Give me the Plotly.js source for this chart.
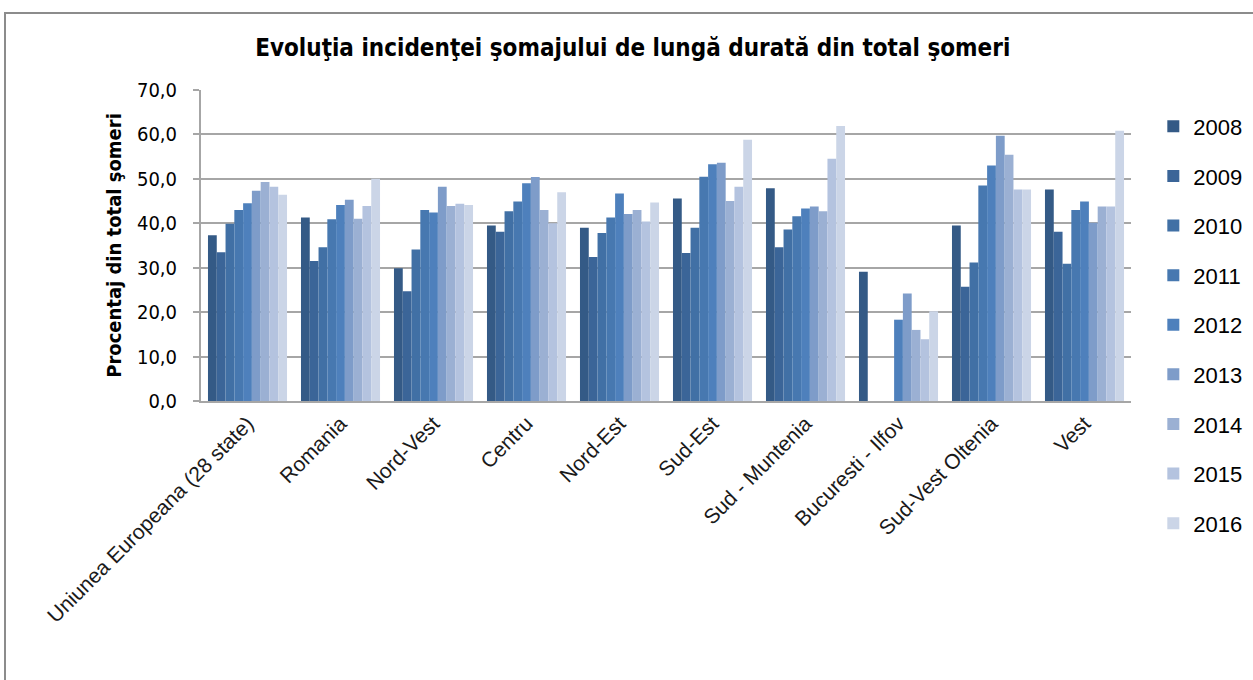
<!DOCTYPE html>
<html>
<head>
<meta charset="utf-8">
<script src="https://cdn.plot.ly/plotly-3.0.1.min.js"></script>
<style>
  html, body { margin: 0; padding: 0; background: #fff; overflow: hidden; }
  #chart { position: absolute; left: 0; top: 0; width: 1253px; height: 680px; }
  #frame { position: absolute; left: 4px; top: 12px; width: 1300px; height: 720px;
           border: 2px solid #8c8c8c; pointer-events: none; box-sizing: border-box; }
</style>
</head>
<body>
<div id="chart"></div>
<div id="frame"></div>
<script>
const categories = [
  "Uniunea Europeana (28 state)", "Romania", "Nord-Vest", "Centru", "Nord-Est",
  "Sud-Est", "Sud - Muntenia", "Bucuresti - Ilfov", "Sud-Vest Oltenia", "Vest"
];
const years = ["2008", "2009", "2010", "2011", "2012", "2013", "2014", "2015", "2016"];

const v2008 = [37.3, 41.3, 29.9, 39.5, 39.0, 45.6, 47.9, 29.1, 39.5, 47.6];
const v2009 = [33.5, 31.5, 24.7, 38.1, 32.4, 33.3, 34.6, null, 25.7, 38.1];
const v2010 = [39.9, 34.6, 34.1, 42.7, 37.8, 39.0, 38.6, null, 31.2, 30.9];
const v2011 = [43.0, 40.9, 43.0, 44.9, 41.3, 50.5, 41.6, null, 48.5, 43.0];
const v2012 = [44.5, 44.1, 42.4, 49.0, 46.7, 53.3, 43.3, 18.3, 53.0, 44.9];
const v2013 = [47.3, 45.3, 48.2, 50.4, 42.1, 53.6, 43.8, 24.2, 59.7, 40.1];
const v2014 = [49.3, 41.0, 43.9, 43.0, 43.0, 45.0, 42.7, 16.0, 55.4, 43.8];
const v2015 = [48.2, 43.9, 44.4, 40.0, 40.4, 48.2, 54.5, 13.9, 47.6, 43.8];
const v2016 = [46.4, 50.0, 44.1, 47.0, 44.7, 58.8, 61.9, 20.2, 47.6, 60.8];

const seriesValues = [v2008, v2009, v2010, v2011, v2012, v2013, v2014, v2015, v2016];
const colors = ["#345a86", "#3b6598", "#4170a5", "#4778b0", "#4e80bc",
                "#7e9cc9", "#9bb0d3", "#b4c3df", "#cbd5e7"];

const traces = years.map((y, i) => ({
  type: "bar",
  name: y,
  x: categories,
  y: seriesValues[i],
  marker: { color: colors[i], line: { width: 0 } },
  legendgroup: "g" + y,
  hoverinfo: "x+y+name"
}));

const narrow = "Liberation Sans Narrow, DejaVu Sans Condensed, Liberation Sans, Arial";

const layout = {
  width: 1253,
  height: 680,
  paper_bgcolor: "rgba(0,0,0,0)",
  plot_bgcolor: "#ffffff",
  margin: { l: 201, r: 122, t: 90, b: 279, autoexpand: false },
  separators: ", ",
  barmode: "group",
  bargap: 0.15,
  bargroupgap: 0,
  title: {
    text: "<b>Evoluţia incidenţei şomajului de lungă durată din total şomeri</b>",
    font: { family: narrow, size: 24, color: "#000" },
    x: 0.505, xanchor: "center",
    y: 0.93, yanchor: "middle"
  },
  xaxis: {
    type: "category",
    tickangle: -45,
    tickfont: { family: "Liberation Sans, Arial", size: 21, color: "#1a1a1a" },
    showline: true, linecolor: "#a6a6a6", linewidth: 2,
    ticks: "", showgrid: false, zeroline: false
  },
  yaxis: {
    range: [0, 70],
    tickvals: [0, 10, 20, 30, 40, 50, 60, 70],
    tickformat: ".1f",
    tickfont: { family: narrow, size: 20, color: "#000" },
    showgrid: true, gridcolor: "#a6a6a6", gridwidth: 2,
    showline: true, linecolor: "#a6a6a6", linewidth: 2,
    ticks: "outside", ticklen: 6, tickcolor: "#a6a6a6", tickwidth: 1.5,
    ticklabelstandoff: 12,
    zeroline: false,
    title: {
      text: "<b>Procentaj din total şomeri</b>",
      font: { family: narrow, size: 20, color: "#000" },
      standoff: 10
    }
  },
  legend: {
    x: 1.024, xanchor: "left",
    y: 0.95, yanchor: "top",
    traceorder: "grouped",
    tracegroupgap: 18,
    maxheight: 640,
    font: { family: "Liberation Sans, Arial", size: 22, color: "#000" },
    itemwidth: 30,
    bgcolor: "rgba(0,0,0,0)"
  },
  showlegend: true
};

Plotly.newPlot("chart", traces, layout, { displayModeBar: false });
</script>
</body>
</html>
